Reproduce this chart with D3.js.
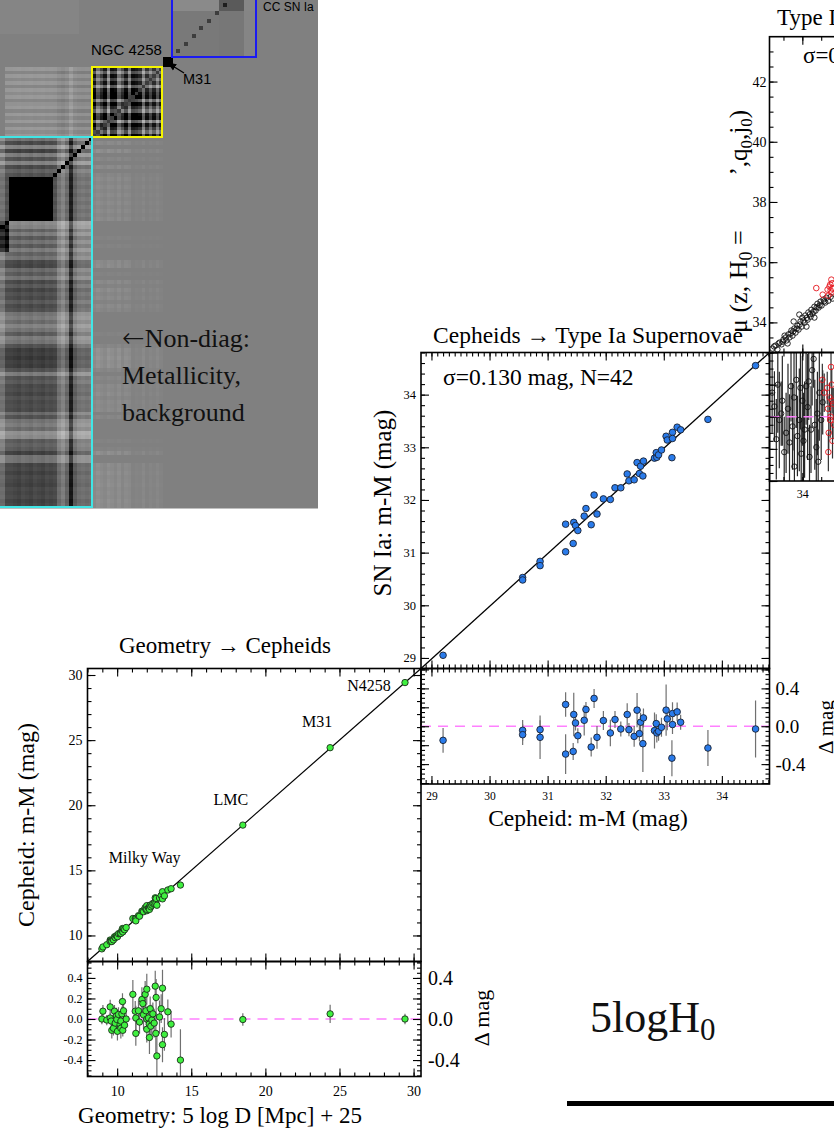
<!DOCTYPE html>
<html>
<head>
<meta charset="utf-8">
<title>Distance ladder</title>
<script src="https://cdn.jsdelivr.net/npm/d3@7/dist/d3.min.js"></script>
<style>
  body { margin: 0; background: #fff; }
</style>
</head>
<body>
<div id="fig"></div>
<script>
// ---------- data ----------

// Geometry -> Cepheids : Milky Way parallax Cepheids (x = 5 log D + 25, residual, error)
var geoX = [8.97, 9.04, 9.30, 9.53, 9.53, 9.60, 9.64, 9.75, 9.82, 9.87, 9.95, 9.98, 10.02, 10.09, 10.20,
  10.25, 10.25, 10.32, 10.36, 10.38, 10.43, 10.50, 10.61, 11.06, 11.22, 11.26, 11.26, 11.44, 11.51, 11.67,
  11.73, 11.78, 11.89, 11.94, 12.00, 12.00, 12.00, 12.11, 12.16, 12.18, 12.23, 12.27, 12.34, 12.41, 12.50,
  12.57, 12.61, 12.63, 12.68, 12.86, 12.97, 13.06, 13.06, 13.19, 13.42, 13.64, 14.27];
var geoRes = [0.00, 0.076, -0.01, 0.118, 0.01, -0.02, -0.11, -0.09, 0.076, -0.04, 0.03, -0.005, -0.12, 0.044, -0.053,
  -0.02, -0.09, 0.05, 0.17, -0.11, 0.08, -0.06, 0.0, 0.24, 0.076, 0.01, -0.14, 0.08, -0.03, 0.19,
  0.15, 0.04, 0.24, 0.08, 0.29, -0.10, 0.0, 0.01, -0.05, -0.18, 0.10, -0.07, -0.01, 0.05, -0.04,
  0.32, -0.14, 0.21, -0.36, 0.02, 0.10, 0.30, -0.25, -0.15, 0.07, -0.05, -0.40];
var geoErr = [0.05, 0.06, 0.05, 0.07, 0.05, 0.06, 0.08, 0.07, 0.06, 0.05, 0.08, 0.1, 0.09, 0.07, 0.08,
  0.06, 0.1, 0.07, 0.08, 0.06, 0.1, 0.07, 0.06, 0.14, 0.1, 0.12, 0.12, 0.1, 0.11, 0.12,
  0.1, 0.14, 0.13, 0.12, 0.15, 0.13, 0.1, 0.12, 0.14, 0.16, 0.12, 0.13, 0.15, 0.11, 0.14,
  0.15, 0.2, 0.18, 0.2, 0.16, 0.14, 0.18, 0.17, 0.16, 0.12, 0.13, 0.3];

var anchorNames = ["LMC", "M31", "N4258"];
var anchorX = [18.48, 24.37, 29.42];
var anchorRes = [-0.005, 0.05, 0.0];
var anchorErr = [0.06, 0.09, 0.05];

// Cepheids -> Type Ia Supernovae (x = Cepheid m-M, residual, error)
var cephX = [29.20, 30.57, 30.57, 30.87, 30.87, 31.31, 31.31, 31.44, 31.45, 31.48, 31.52, 31.63, 31.66, 31.75,
  31.80, 31.85, 31.96, 32.08, 32.16, 32.26, 32.37, 32.40, 32.49, 32.54, 32.58, 32.60, 32.64, 32.65,
  32.84, 32.87, 32.88, 32.91, 32.96, 33.04, 33.06, 33.14, 33.15, 33.15, 33.23, 33.29, 33.76, 34.58];
var cephRes = [-0.149, -0.043, -0.089, -0.036, -0.117, 0.23, -0.294, -0.266, 0.124, 0.035, -0.10, 0.063, 0.177, -0.22,
  0.294, -0.117, 0.06, -0.071, 0.071, -0.029, 0.124, -0.036, -0.107, 0.17, -0.078, 0.042, -0.184, 0.088,
  -0.046, 0.028, -0.071, -0.053, -0.011, 0.17, 0.078, -0.337, 0.134, 0.018, 0.152, 0.042, -0.23, -0.029];
var cephErr = [0.13, 0.11, 0.11, 0.1, 0.23, 0.13, 0.21, 0.09, 0.23, 0.08, 0.08, 0.16, 0.08, 0.1,
  0.1, 0.12, 0.1, 0.14, 0.09, 0.08, 0.12, 0.07, 0.11, 0.18, 0.08, 0.1, 0.3, 0.1,
  0.19, 0.1, 0.1, 0.1, 0.1, 0.27, 0.12, 0.19, 0.12, 0.1, 0.1, 0.08, 0.19, 0.3];

// Type Ia Supernovae -> H0 (cropped panel): Hubble-flow SNe
var hfX = [33.21, 33.29, 33.34, 33.40, 33.45, 33.50, 33.53, 33.58, 33.63, 33.66, 33.71, 33.74, 33.79, 33.82, 33.87,
  33.90, 33.95, 33.98, 34.00, 34.06, 34.08, 34.14, 34.16, 34.22, 34.24, 34.27, 34.32, 34.35, 34.40, 34.43,
  34.48, 34.51, 34.56, 34.61, 34.64, 34.69, 34.75, 34.80, 33.77, 33.92, 34.11, 33.61, 34.32,
  33.25, 33.37, 33.48, 33.56, 33.69, 33.76, 33.85, 33.93, 34.03, 34.12, 34.20, 34.30, 34.38, 34.46, 34.58];
var hfY = [33.13, 33.23, 33.10, 33.33, 33.27, 33.43, 33.56, 33.40, 33.60, 33.50, 33.73, 33.56, 33.80, 33.66, 33.89,
  33.76, 34.03, 33.86, 34.16, 33.99, 34.23, 34.09, 34.33, 34.19, 34.42, 34.29, 34.52, 34.39, 34.62, 34.49,
  34.69, 34.56, 34.76, 34.66, 34.82, 34.72, 34.85, 34.79, 34.03, 34.26, 33.86, 33.30, 34.16,
  33.20, 33.30, 33.36, 33.50, 33.63, 33.70, 33.79, 33.93, 34.06, 34.15, 34.27, 34.36, 34.50, 34.57, 34.70];
var hfRedX = [34.37, 34.54, 34.77, 34.67, 34.72, 34.77, 34.69, 34.80, 34.75, 34.74, 34.79];
var hfRedY = [35.14, 34.92, 35.42, 35.09, 35.19, 34.99, 34.89, 35.12, 35.06, 35.26, 35.30];

var hfResX = [33.26, 33.31, 33.39, 33.44, 33.47, 33.57, 33.66, 33.70, 33.74, 33.79, 33.84, 33.87, 33.92, 33.97, 34.00,
  34.06, 34.10, 34.14, 34.19, 34.23, 34.26, 34.30, 34.37, 34.40, 34.45, 34.50, 34.54,
  33.20, 33.35, 33.52, 33.62, 33.78, 33.95, 34.03, 34.17, 34.33, 34.42];
var hfRes = [0.064, -0.14, -0.02, 0.02, 0.10, -0.10, -0.16, 0.19, -0.06, -0.31, 0.23, -0.12, -0.02, -0.23, 0.10,
  -0.08, 0.19, 0.06, -0.25, -0.08, 0.29, 0.36, -0.19, 0.02, 0.15, -0.02, 0.09,
  0.15, 0.20, -0.22, 0.05, 0.12, 0.18, -0.15, 0.22, -0.05, -0.28];
var hfResErr = [0.22, 0.25, 0.3, 0.2, 0.28, 0.25, 0.3, 0.22, 0.27, 0.2, 0.3, 0.25, 0.32, 0.22, 0.28,
  0.3, 0.24, 0.33, 0.2, 0.27, 0.22, 0.18, 0.3, 0.26, 0.3, 0.25, 0.2,
  0.25, 0.3, 0.22, 0.28, 0.33, 0.26, 0.3, 0.24, 0.28, 0.2];
var hfRedResX = [34.53, 34.58, 34.66, 34.68, 34.69, 34.70, 34.72, 34.74, 34.75, 34.76, 34.78, 34.79, 34.80, 34.82, 34.84];
var hfRedRes = [0.23, 0.15, 0.18, 0.05, -0.22, -0.10, 0.12, -0.02, 0.0, 0.31, 0.20, 0.10, -0.15, 0.08, -0.05];
var hfRedErr = [0.1, 0.12, 0.1, 0.08, 0.12, 0.1, 0.09, 0.11, 0.1, 0.12, 0.1, 0.08, 0.11, 0.1, 0.09];

// covariance matrix shading (0 = mid grey, + darker, - lighter)
var ccsnShades = [[-0.1, 0.45, -0.15], [-0.08, 0.1, 0.08]];
var ccsnDiag = 0.7;
var ccsnCyanShade = -0.08;
var m31Shade = 1.8;
var yellowW = [-0.4, -1.1, -0.3, -0.9, -0.3, -1.2, -0.2, 0, 0.1, -1.0, 0, -0.6, -1.1, 0, 0.1, -1.2, 0, -0.5, -1.0, 0];
var yellowCross = [0, 0.3, 0, 0.25, 0, 0.3, 0, 0.2, 0, 0.3, 0.1, 0, 0.3, 0, 0.25, 0, 0.3, 0, 0.2, 0];
var yellowCrossCol = [0.3, 0.6, 0.3, 0.5, 0.2, 0.7, 0.3, 0.4, 0.2, 0.8, 1, 0.5, 1.2, 0.6, 1, 1.3, 0.7, 1, 1.4, 0.8];
var cyanColW = [-0.15, -0.1, -0.15, -0.1, 0.1, 0.9, 0, -0.3, -0.1, 0.3, 0.35, 0.3, 0.4, 0.35, 0.3, 0.4,
  0.35, 0.3, 0.4, 0.35, 0.3, 0.3, -0.1];
var cyanRowW = [-0.2, 0.3, -0.4, 0.4, -0.3, 0.2, -0.4, 0.3, 0, 0.2,
  0.3, 0.2, 0.3, 0.2, 0.3, 0.2, 0.3, 0.2, 0.3, 0.2, 0.3,
  -0.5, -0.4, 0, -0.3, 0.1, -0.2, 0.1, -0.3,
  0, -0.2, 0.3, 0.35, -0.1, 0.1, -0.2,
  0.3, 0.1, 0.35, 0.2, 0.3, 0.1, 0.3, 0.2,
  -0.2, -0.3, -0.1, -0.4, -0.2, 0.1, -0.3, -0.2, 0.2,
  0.45, 0.4, 0.5, 0.4, 0.45,
  0.2, -0.3, 0.2, 0.1,
  0.3, 0.25, 0.35, 0.2, 0.3, 0.25, 0.3, -0.1, 0.2,
  -0.2, -0.3, -0.1, -0.6,
  -0.5, 0.1, 0,
  0.1, 0.4, -0.2,
  -0.2, 0.35, 0.3, 0.4, 0.3, 0.35, 0.4, 0.3, 0.35, 0.3, 0.4, 0.35];
var cyanGroups = [[10, 20], [21, 28]];

// ---------- drawing ----------
var serif = '"Liberation Serif","Times New Roman",Times,serif';
var sans = '"Liberation Sans",Arial,Helvetica,sans-serif';

var svg = d3.select('#fig').append('svg')
  .attr('width', 834).attr('height', 1131)
  .attr('font-family', serif);
svg.append('rect').attr('width', 834).attr('height', 1131).attr('fill', '#fff');
var defs = svg.append('defs');
defs.append('clipPath').attr('id', 'matclip').append('rect').attr('width', 318).attr('height', 508.5);
defs.append('marker').attr('id', 'arr').attr('viewBox', '0 0 10 10').attr('refX', 9).attr('refY', 5)
  .attr('markerWidth', 7).attr('markerHeight', 7).attr('orient', 'auto')
  .append('path').attr('d', 'M0,1 L10,5 L0,9 z').attr('fill', '#000');

// --- covariance matrix image
var mat = svg.append('g').attr('clip-path', 'url(#matclip)');
var mx = d3.scaleLinear().domain([0, 229]).range([229, 0]);
var my = d3.scaleLinear().domain([0, 229]).range([0, 229]);
var gray = d3.scaleLinear().domain([-1.5, 0, 1.5]).range(['#e0e0e0', '#808080', '#000000']).clamp(true);

mat.append('rect').attr('width', 318).attr('height', 509).attr('fill', gray(0));

function cellBlock(rowT, colT, nr, nc, val) {
  var rb = d3.scaleBand().domain(d3.range(nr)).range([my(rowT[0]), my(rowT[1])]);
  var cb = d3.scaleBand().domain(d3.range(nc)).range([mx(colT[0]), mx(colT[1])]);
  var cells = [];
  for (var r = 0; r < nr; r++) for (var c = 0; c < nc; c++) cells.push({ r: r, c: c, v: val(r, c) });
  mat.append('g').attr('shape-rendering', 'crispEdges')
    .selectAll('rect').data(cells).join('rect')
    .attr('x', function (d) { return cb(d.c); })
    .attr('y', function (d) { return rb(d.r); })
    .attr('width', cb.bandwidth() + 0.5)
    .attr('height', rb.bandwidth() + 0.5)
    .attr('fill', function (d) { return gray(d.v); });
}

var ccsnRowT = [[-14, 11], [11, 57]];
var ccsnColT = [[-27, -14], [-14, 11], [11, 57]];
var ccsnN = [3, 6, 12];

cellBlock([-27, 33], [151, 240], 1, 1, function () { return ccsnCyanShade; });
ccsnRowT.forEach(function (rt, i) {
  ccsnColT.forEach(function (ct, j) {
    var diagBlock = (i === 0 && j === 1) || (i === 1 && j === 2);
    if (diagBlock) {
      var n = ccsnN[j];
      cellBlock(rt, ct, n, n, function (r, c) {
        return (r === c && r % 2 === 0) ? ccsnDiag + ccsnShades[i][j] : ccsnShades[i][j];
      });
    } else {
      cellBlock(rt, ct, 1, 1, function () { return ccsnShades[i][j]; });
    }
  });
});
cellBlock([57, 66], [57, 66], 1, 1, function () { return m31Shade; });
cellBlock([67, 137], [67, 137], 20, 20, function (r, c) {
  return r === c ? 0.8 : 1.6 + yellowW[r] + yellowW[c];
});
cellBlock([67, 137], [137, 229], 20, 23, function (r, c) {
  return c === 22 ? 0 : -0.3 - 0.25 * cyanColW[c] + yellowCross[r];
});
cellBlock([137, 507], [67, 137], 93, 20, function (r, c) {
  return -0.5 * Math.max(0, cyanRowW[r]) * yellowCrossCol[c];
});
function grp(i) {
  for (var k = 0; k < cyanGroups.length; k++) if (i >= cyanGroups[k][0] && i <= cyanGroups[k][1]) return k + 1;
  return 0;
}
cellBlock([137, 507], [137, 229], 93, 23, function (r, c) {
  if (r === c) return 1.8;
  var g = grp(r);
  return cyanRowW[r] + cyanColW[c] + (g > 0 && g === grp(c) ? 1.2 : 0);
});

function outline(t0, t1, color) {
  mat.append('rect')
    .attr('x', mx(t1)).attr('y', my(t0))
    .attr('width', mx(t0) - mx(t1)).attr('height', my(t1) - my(t0))
    .attr('fill', 'none').attr('stroke', color).attr('stroke-width', 2);
}
outline(-27, 57, '#1b1bf2');
outline(67, 137, '#f5f500');
outline(137, 507, '#40e6e6');

mat.append('text').attr('x', 263).attr('y', 10.5).attr('font-family', sans).attr('font-size', 12).text('CC SN Ia');
mat.append('text').attr('x', 91).attr('y', 55).attr('font-family', sans).attr('font-size', 15).text('NGC 4258');
mat.append('text').attr('x', 183).attr('y', 84).attr('font-family', sans).attr('font-size', 14.5).text('M31');
mat.append('line').attr('x1', 184).attr('y1', 73).attr('x2', mx(62) + 1).attr('y2', my(62) + 1)
  .attr('stroke', '#000').attr('stroke-width', 1.3).attr('marker-end', 'url(#arr)');
var nd = mat.append('text').attr('font-size', 26).attr('fill', '#111');
var nd0 = nd.append('tspan').attr('x', 122).attr('y', 347);
nd0.append('tspan').attr('font-family', '"DejaVu Sans",sans-serif').attr('font-size', 27).attr('font-weight', 300).text('\u2190');
nd0.append('tspan').text('Non-diag:');
nd.append('tspan').attr('x', 122).attr('y', 384).text('Metallicity,');
nd.append('tspan').attr('x', 122).attr('y', 421).text('background');

// --- helpers for IDL-style framed panels
function steps(a, b, s) {
  var out = [];
  for (var k = Math.ceil(a / s - 1e-6); k * s <= b + 1e-9; k++) out.push(+(k * s).toFixed(6));
  return out;
}
var axisFn = { bottom: d3.axisBottom, top: d3.axisTop, left: d3.axisLeft, right: d3.axisRight };
function place(side, pos) {
  return (side === 'bottom' || side === 'top') ? 'translate(0,' + pos + ')' : 'translate(' + pos + ',0)';
}
function tickRow(g, scale, side, pos, vals, len) {
  var a = g.append('g').attr('transform', place(side, pos))
    .call(axisFn[side](scale).tickValues(vals).tickSizeInner(-len).tickSizeOuter(0).tickFormat(''));
  a.select('.domain').remove();
  a.selectAll('line').attr('stroke', '#000').attr('stroke-width', 1.1);
}
function tickLabels(g, scale, side, pos, vals, fmt, size, pad) {
  var a = g.append('g').attr('transform', place(side, pos))
    .call(axisFn[side](scale).tickValues(vals).tickSize(0).tickPadding(pad).tickFormat(fmt));
  a.select('.domain').remove();
  a.selectAll('line').remove();
  a.selectAll('text').style('font-family', serif).style('font-size', size + 'px').attr('fill', '#000');
}
function frame(g, x, y, xs, ys, sides) {
  var xr = x.range(), yr = y.range();
  var x0 = Math.min(xr[0], xr[1]), x1 = Math.max(xr[0], xr[1]);
  var yt = Math.min(yr[0], yr[1]), yb = Math.max(yr[0], yr[1]);
  (sides || ['bottom', 'top', 'left', 'right']).forEach(function (side) {
    var horiz = side === 'bottom' || side === 'top';
    var sc = horiz ? x : y;
    var st = horiz ? xs : ys;
    var ext = d3.extent(sc.domain());
    var pos = side === 'bottom' ? yb : side === 'top' ? yt : side === 'left' ? x0 : x1;
    tickRow(g, sc, side, pos, steps(ext[0], ext[1], st[1]), 4);
    tickRow(g, sc, side, pos, steps(ext[0], ext[1], st[0]), 8);
  });
  g.append('rect').attr('x', x0).attr('y', yt).attr('width', x1 - x0).attr('height', yb - yt)
    .attr('fill', 'none').attr('stroke', '#000').attr('stroke-width', 1.6);
}
function clipFor(id, x, y) {
  var xr = d3.extent(x.range()), yr = d3.extent(y.range());
  defs.append('clipPath').attr('id', id).append('rect')
    .attr('x', xr[0]).attr('y', yr[0]).attr('width', xr[1] - xr[0]).attr('height', yr[1] - yr[0]);
  return 'url(#' + id + ')';
}
function zeroLine(g, x, r) {
  var xr = x.range();
  g.append('line').attr('x1', xr[0]).attr('x2', xr[1]).attr('y1', r(0)).attr('y2', r(0))
    .attr('stroke', '#ff80ff').attr('stroke-width', 1.6).attr('stroke-dasharray', '10,7');
}
function errBars(g, xs, res, err, x, r, color) {
  g.append('g').selectAll('line').data(xs).join('line')
    .attr('x1', function (d) { return x(d); }).attr('x2', function (d) { return x(d); })
    .attr('y1', function (d, i) { return r(res[i] - err[i]); })
    .attr('y2', function (d, i) { return r(res[i] + err[i]); })
    .attr('stroke', color).attr('stroke-width', 1.2);
}
function dots(g, xs, ys, x, y, fill, stroke, rad) {
  g.append('g').selectAll('circle').data(xs).join('circle')
    .attr('cx', function (d) { return x(d); })
    .attr('cy', function (d, i) { return y(ys[i]); })
    .attr('r', rad)
    .attr('fill', fill).attr('stroke', stroke).attr('stroke-width', 0.9);
}
var fmt1 = function (d) { return (Math.round(d * 10) / 10).toFixed(1); };
var fmtD = d3.format('d');

// --- panel 1 : Geometry -> Cepheids
var x1 = d3.scaleLinear().domain([8, 30.5]).range([87.5, 421]);
var y1 = d3.scaleLinear().domain([8, 30.5]).range([961.5, 668.5]);
var r1 = d3.scaleLinear().domain([-0.56, 0.56]).range([1076.5, 961.5]);
var p1 = svg.append('g');
var allX1 = geoX.concat(anchorX);
var allR1 = geoRes.concat(anchorRes);
var allE1 = geoErr.concat(anchorErr);
var allY1 = allX1.map(function (d, i) { return d + allR1[i]; });

p1.append('line').attr('x1', x1(8)).attr('y1', y1(8)).attr('x2', x1(30.5)).attr('y2', y1(30.5))
  .attr('stroke', '#000').attr('stroke-width', 1.2);
dots(p1, allX1, allY1, x1, y1, '#3ff03f', '#1b2b1b', 3.2);
var p1r = p1.append('g').attr('clip-path', clipFor('c1r', x1, r1));
zeroLine(p1r, x1, r1);
errBars(p1r, allX1, allR1, allE1, x1, r1, '#707070');
dots(p1r, allX1, allR1, x1, r1, '#3ff03f', '#1b2b1b', 3.2);
frame(p1, x1, y1, [5, 1], [5, 1]);
frame(p1, x1, r1, [5, 1], [0.2, 0.05]);
tickLabels(p1, x1, 'bottom', 1076.5, steps(10, 30, 5), fmtD, 14, 10);
tickLabels(p1, y1, 'left', 87.5, steps(10, 30, 5), fmtD, 14, 5);
tickLabels(p1, r1, 'left', 87.5, steps(-0.4, 0.4, 0.2), fmt1, 12, 5);
tickLabels(p1, r1, 'right', 421, [-0.4, 0, 0.4], fmt1, 20, 7);

p1.append('text').attr('x', x1(11.86)).attr('y', y1(15.56)).attr('text-anchor', 'middle')
  .attr('font-size', 16).text('Milky Way');
var anchorOff = [[-12, -20], [-13, -21], [-36, 8]];
anchorNames.forEach(function (n, i) {
  p1.append('text').attr('x', x1(anchorX[i]) + anchorOff[i][0])
    .attr('y', y1(anchorX[i] + anchorRes[i]) + anchorOff[i][1])
    .attr('text-anchor', 'middle').attr('font-size', 16).text(n);
});
p1.append('text').attr('x', 225).attr('y', 653).attr('text-anchor', 'middle').attr('font-size', 23)
  .text('Geometry \u2192 Cepheids');
p1.append('text').attr('x', 220).attr('y', 1123).attr('text-anchor', 'middle').attr('font-size', 23)
  .text('Geometry: 5 log D [Mpc] + 25');
p1.append('text').attr('transform', 'translate(34,825) rotate(-90)').attr('text-anchor', 'middle')
  .attr('font-size', 24).text('Cepheid: m-M (mag)');
p1.append('text').attr('transform', 'translate(489,1018) rotate(-90)').attr('text-anchor', 'middle')
  .attr('font-size', 22).text('\u0394 mag');

// --- panel 2 : Cepheids -> Type Ia Supernovae
var x2 = d3.scaleLinear().domain([28.82, 34.82]).range([421, 769.5]);
var y2 = d3.scaleLinear().domain([28.8, 34.8]).range([668.5, 352.5]);
var r2 = d3.scaleLinear().domain([-0.61, 0.61]).range([784, 668.5]);
var p2 = svg.append('g');
var cephY = cephX.map(function (d, i) { return d + cephRes[i]; });
p2.append('line').attr('x1', x2(28.82)).attr('y1', y2(28.8)).attr('x2', x2(34.82)).attr('y2', y2(34.8))
  .attr('stroke', '#000').attr('stroke-width', 1.3);
dots(p2, cephX, cephY, x2, y2, '#2a7bea', '#1a2030', 3.3);
var p2r = p2.append('g').attr('clip-path', clipFor('c2r', x2, r2));
zeroLine(p2r, x2, r2);
errBars(p2r, cephX, cephRes, cephErr, x2, r2, '#707070');
dots(p2r, cephX, cephRes, x2, r2, '#2a7bea', '#1a2030', 3.3);
frame(p2, x2, y2, [1, 0.1], [1, 0.2]);
frame(p2, x2, r2, [1, 0.1], [0.2, 0.05]);
tickLabels(p2, x2, 'bottom', 784, steps(29, 34, 1), fmtD, 11.5, 8);
tickLabels(p2, y2, 'left', 421, steps(29, 34, 1), fmtD, 12.5, 5);
tickLabels(p2, r2, 'right', 769.5, [-0.4, 0, 0.4], fmt1, 19, 6);
p2.append('text').attr('x', 443).attr('y', 385).attr('font-size', 23.5).text('\u03c3=0.130 mag, N=42');
p2.append('text').attr('x', 588).attr('y', 343).attr('text-anchor', 'middle').attr('font-size', 23.5)
  .text('Cepheids \u2192 Type Ia Supernovae');
p2.append('text').attr('x', 588).attr('y', 826).attr('text-anchor', 'middle').attr('font-size', 23.5)
  .text('Cepheid: m-M (mag)');
p2.append('text').attr('transform', 'translate(391,503) rotate(-90)').attr('text-anchor', 'middle')
  .attr('font-size', 25).text('SN Ia: m-M (mag)');
p2.append('text').attr('transform', 'translate(833,727) rotate(-90)').attr('text-anchor', 'middle')
  .attr('font-size', 21).text('\u0394 mag');

// --- panel 3 : Type Ia Supernovae -> H0 (cropped at the right edge)
var x3 = d3.scaleLinear().domain([33.13, 35.25]).range([769.5, 849.5]);
var y3 = d3.scaleLinear().domain([33.0, 43.49]).range([352.5, 36.7]);
var r3 = d3.scaleLinear().domain([-0.4, 0.4]).range([481, 352.5]);
var p3 = svg.append('g');
var p3m = p3.append('g').attr('clip-path', clipFor('c3m', x3, y3));
dots(p3m, hfX, hfY, x3, y3, 'none', '#111', 2.7);
dots(p3m, hfRedX, hfRedY, x3, y3, 'none', '#e5141c', 2.8);
var p3r = p3.append('g').attr('clip-path', clipFor('c3r', x3, r3));
errBars(p3r, hfResX, hfRes, hfResErr, x3, r3, '#262626');
errBars(p3r, hfRedResX, hfRedRes, hfRedErr, x3, r3, '#333');
zeroLine(p3r, x3, r3);
dots(p3r, hfResX, hfRes, x3, r3, 'none', '#111', 2.7);
dots(p3r, hfRedResX, hfRedRes, x3, r3, 'none', '#e5141c', 2.8);
frame(p3, x3, y3, [1, 0.5], [2, 0.5], ['bottom', 'top', 'left']);
frame(p3, x3, r3, [1, 0.5], [0.2, 0.05], ['bottom', 'top', 'left']);
tickLabels(p3, y3, 'left', 769.5, steps(34, 42, 2), fmtD, 14, 3);
tickLabels(p3, x3, 'bottom', 481, [34], fmtD, 12, 8);
p3.append('text').attr('x', 803).attr('y', 63).attr('font-size', 23).text('\u03c3=0.14 mag');
var t3 = p3.append('text').attr('x', 777).attr('y', 25).attr('font-size', 23);
t3.append('tspan').text('Type Ia Supernovae \u2192 H');
t3.append('tspan').attr('font-size', 15).attr('dy', 5).text('0');

var ya = p3.append('text').attr('transform', 'translate(747,333) rotate(-90)').attr('font-size', 26);
ya.append('tspan').text('\u03bc (z, H');
ya.append('tspan').attr('font-size', 18).attr('dy', 5).text('0');
ya.append('tspan').attr('dy', -5).text(' =');
var yb = p3.append('text').attr('transform', 'translate(747,110) rotate(-90)').attr('font-size', 25)
  .attr('text-anchor', 'end');
yb.append('tspan').text('\u2019,q');
yb.append('tspan').attr('font-size', 17).attr('dy', 5).text('0');
yb.append('tspan').attr('dy', -5).text(',j');
yb.append('tspan').attr('font-size', 17).attr('dy', 5).text('0');
yb.append('tspan').attr('dy', -5).text(')');

// --- ladder label
var h0 = svg.append('text').attr('x', 590).attr('y', 1032).attr('font-size', 44).attr('fill', '#111');
h0.append('tspan').text('5logH');
h0.append('tspan').attr('font-size', 31).attr('dy', 8).text('0');
svg.append('rect').attr('x', 567).attr('y', 1101).attr('width', 267).attr('height', 5).attr('fill', '#000');
</script>
</body>
</html>
